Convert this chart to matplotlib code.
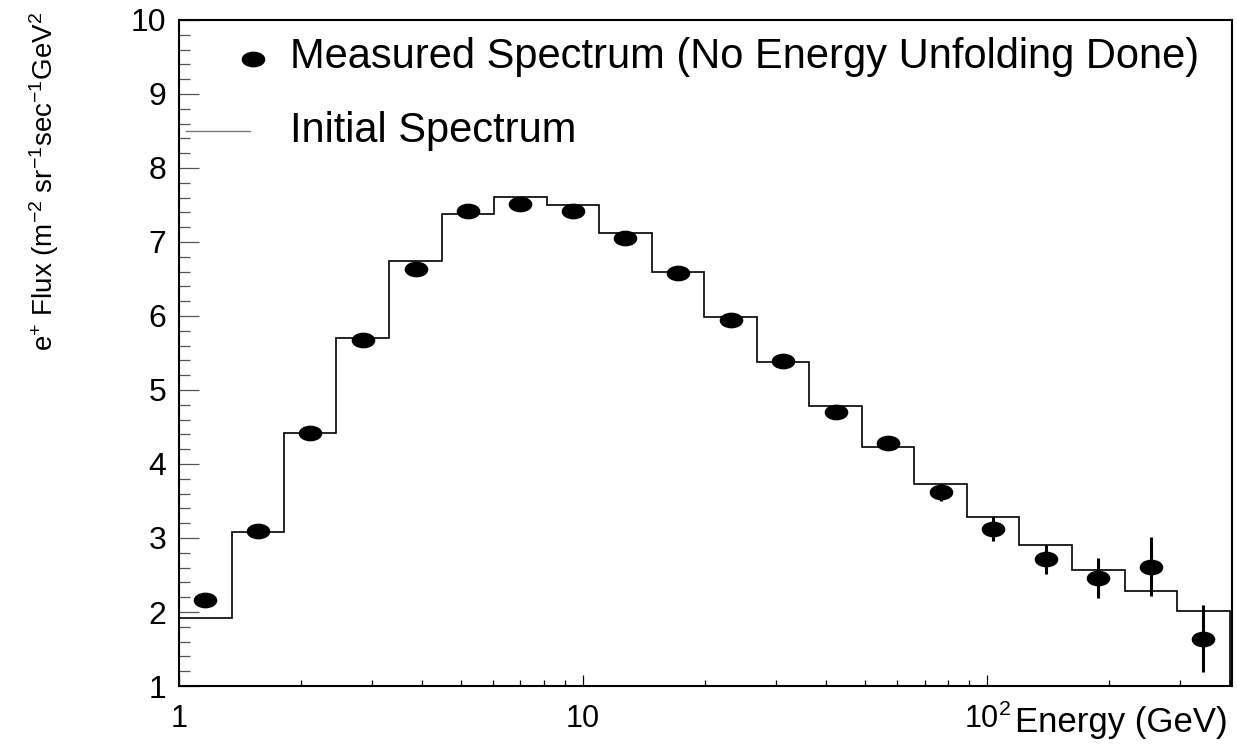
import matplotlib
matplotlib.use('Agg')
import matplotlib.pyplot as plt
from matplotlib.lines import Line2D
from matplotlib.path import Path
from matplotlib.transforms import Affine2D
from matplotlib.ticker import FixedLocator, FixedFormatter, MultipleLocator, LogLocator, NullFormatter

plt.rcParams['font.family'] = ['Liberation Sans', 'DejaVu Sans']
plt.rcParams['mathtext.fontset'] = 'custom'
plt.rcParams['mathtext.rm'] = 'Liberation Sans'
plt.rcParams['mathtext.it'] = 'Liberation Sans:italic'
plt.rcParams['mathtext.bf'] = 'Liberation Sans:bold'

# initial spectrum (histogram), log-spaced energy bins in GeV
bin_edges = [1.0, 1.35, 1.82, 2.45, 3.31, 4.47, 6.03, 8.13, 10.96, 14.79, 19.95,
             26.9, 36.3, 48.98, 66.07, 89.13, 120.2, 162.2, 218.8, 295.1, 398.1]
initial_flux = [1.92, 3.08, 4.42, 5.70, 6.74, 7.38, 7.61, 7.50, 7.12, 6.60,
                5.99, 5.38, 4.78, 4.23, 3.73, 3.29, 2.91, 2.57, 2.28, 2.02]

# measured spectrum at bin centres
energy = [1.16, 1.57, 2.11, 2.85, 3.85, 5.19, 7.0, 9.44, 12.7, 17.2,
          23.2, 31.3, 42.2, 56.9, 76.7, 103.5, 139.6, 188.4, 254.1, 342.8]
measured_flux = [2.16, 3.09, 4.42, 5.67, 6.64, 7.42, 7.52, 7.42, 7.06, 6.58,
                 5.95, 5.39, 4.70, 4.29, 3.62, 3.12, 2.71, 2.46, 2.61, 1.64]
measured_err = [0.02, 0.02, 0.03, 0.03, 0.03, 0.04, 0.04, 0.04, 0.05, 0.05,
                0.05, 0.06, 0.07, 0.095, 0.115, 0.16, 0.19, 0.265, 0.40, 0.45]

x_ticks = [1, 10, 100]
x_tick_labels = ['1', '10', r'$10^{2}$']
y_ticks = [1, 2, 3, 4, 5, 6, 7, 8, 9, 10]

W, H = 1237, 746


def fx(px):
    return px / W


def fy(py):
    return 1 - py / H


fig = plt.figure(figsize=(W / 100, H / 100), dpi=100)
ax = fig.add_axes([fx(179), fy(686), (1232 - 179) / W, (686 - 20) / H])
ax.set_xscale('log')
ax.set_xlim(1, 10 ** 2.606)
ax.set_ylim(1, 10)

# histogram outline
ax.stairs(initial_flux, bin_edges, baseline=1, fill=False, color='black', lw=1.2)

# measured points as flattened ellipses
ellipse = Path.unit_circle().transformed(Affine2D().scale(1.55, 1.0))
ax.errorbar(energy, measured_flux, yerr=measured_err, fmt='none',
            ecolor='black', elinewidth=2.2, capsize=0)
ax.plot(energy, measured_flux, ls='none', marker=ellipse, ms=16, color='black')

# axes frame and ticks (ROOT look)
for side in ['left', 'bottom', 'top', 'right']:
    ax.spines[side].set_linewidth(1.5)
ax.xaxis.set_major_locator(FixedLocator(x_ticks))
ax.xaxis.set_major_formatter(FixedFormatter(x_tick_labels))
ax.xaxis.set_minor_locator(LogLocator(base=10, subs=[2, 3, 4, 5, 6, 7, 8, 9]))
ax.xaxis.set_minor_formatter(NullFormatter())
ax.yaxis.set_major_locator(FixedLocator(y_ticks))
ax.yaxis.set_minor_locator(MultipleLocator(0.2))

ax.tick_params(axis='both', which='both', direction='in', top=False, right=False)
ax.tick_params(axis='y', which='major', length=14.4, width=0.9, color='#555555',
               labelsize=23, pad=9)
ax.tick_params(axis='y', which='minor', length=8, width=0.9, color='#555555')
ax.tick_params(axis='x', which='major', length=8, width=0.9, color='black',
               labelsize=22, pad=13)
ax.tick_params(axis='x', which='minor', length=4, width=0.9, color='black')

# axis titles
fig.text(fx(44), fy(12), r'e$^{+}$ Flux (m$^{-2}$ sr$^{-1}$sec$^{-1}$GeV$^{2}$',
         rotation=90, ha='center', va='top', fontsize=20)
fig.text(fx(1228), fy(732), 'Energy (GeV)', ha='right', va='baseline', fontsize=25)

# legend drawn by hand
fig.add_artist(Line2D([fx(253)], [fy(59)], ls='none', marker=ellipse, ms=16,
                      color='black', transform=fig.transFigure))
fig.text(fx(290), fy(68), 'Measured Spectrum (No Energy Unfolding Done)',
         ha='left', va='baseline', fontsize=30)
fig.add_artist(Line2D([fx(186), fx(250)], [fy(131), fy(131)], color='#777777',
                      lw=1.0, transform=fig.transFigure))
fig.text(fx(290), fy(142), 'Initial Spectrum', ha='left', va='baseline', fontsize=30)

fig.savefig('out.png', dpi=100)
